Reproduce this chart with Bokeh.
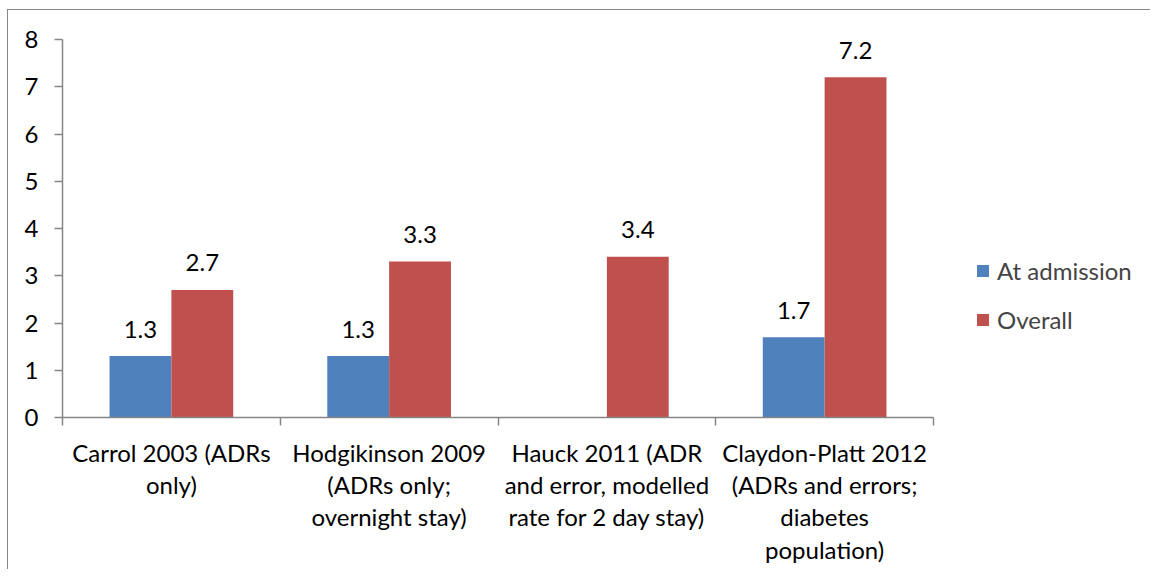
from bokeh.plotting import figure
from bokeh.models import Range1d, FixedTicker, Legend, LegendItem, ColumnDataSource
from bokeh.core.properties import value
from bokeh.embed import file_html
from bokeh.resources import INLINE
import numpy as np

categories = [
    "Carrol 2003 (ADRs\nonly)",
    "Hodgikinson 2009\n(ADRs only;\novernight stay)",
    "Hauck 2011 (ADR\nand error, modelled\nrate for 2 day stay)",
    "Claydon-Platt 2012\n(ADRs and errors;\ndiabetes\npopulation)",
]
at_admission = [1.3, 1.3, np.nan, 1.7]
overall = [2.7, 3.3, 3.4, 7.2]
series_names = ["At admission", "Overall"]
y_ticks = [0, 1, 2, 3, 4, 5, 6, 7, 8]

BLUE = "#4F81BD"
RED = "#C0504D"
GRAY = "#868686"
FONT = "Lato"
FS = "24px"

# layout (pixels)
W, H = 1143, 560
ML, MR, MT, MB = 54, 0, 29, 153
AXIS_PX = 871  # pixel length of the category axis
frame_w = W - ML - MR
n = len(categories)
x_end = n * frame_w / AXIS_PX

idx = np.arange(n)
bw = 0.284
centers = idx + 0.5

p = figure(width=W, height=H, output_backend="svg", toolbar_location=None,
           x_range=Range1d(0, x_end), y_range=Range1d(0, 8))
p.min_border_left = ML
p.min_border_right = MR
p.min_border_top = MT
p.min_border_bottom = MB
p.outline_line_color = None
p.grid.visible = False
p.background_fill_color = "white"
p.border_fill_color = "white"
p.styles = {"border-left": "1px solid #868686", "border-top": "1px solid #868686",
            "margin-left": "7px", "margin-top": "9px"}

src_a = ColumnDataSource(dict(x=centers - bw / 2, top=at_admission,
                              lab=[("" if np.isnan(v) else f"{v:.1f}") for v in at_admission]))
src_o = ColumnDataSource(dict(x=centers + bw / 2, top=overall,
                              lab=[f"{v:.1f}" for v in overall]))

ra = p.vbar(x="x", top="top", bottom=0, width=bw, source=src_a, fill_color=BLUE, line_color=None)
ro = p.vbar(x="x", top="top", bottom=0, width=bw, source=src_o, fill_color=RED, line_color=None)

for s in (src_a, src_o):
    p.text(x="x", y="top", text="lab", source=s, text_align="center", text_baseline="middle",
           y_offset=-27, text_font=value(FONT), text_font_size=FS, text_color="black")

# axes
xa = p.xaxis[0]
xa.bounds = (0, n)
xa.ticker = FixedTicker(ticks=list(centers), minor_ticks=list(range(n + 1)))
xa.major_label_overrides = {float(c): lab for c, lab in zip(centers, categories)}
xa.major_tick_line_color = None
xa.minor_tick_line_color = GRAY
xa.minor_tick_out = 8
xa.minor_tick_in = 0
xa.minor_tick_line_width = 1.5
xa.axis_line_color = GRAY
xa.axis_line_width = 1.5
xa.major_label_text_font = FONT
xa.major_label_text_font_size = FS
xa.major_label_text_color = "black"
xa.major_label_text_line_height = 1.12
xa.major_label_standoff = 12

ya = p.yaxis[0]
ya.ticker = FixedTicker(ticks=y_ticks)
ya.minor_tick_line_color = None
ya.major_tick_line_color = GRAY
ya.major_tick_out = 8
ya.major_tick_in = 0
ya.major_tick_line_width = 1.5
ya.axis_line_color = GRAY
ya.axis_line_width = 1.5
ya.major_label_text_font = FONT
ya.major_label_text_font_size = FS
ya.major_label_text_color = "black"
ya.major_label_standoff = 16

legend = Legend(items=[LegendItem(label=series_names[0], renderers=[ra]),
                       LegendItem(label=series_names[1], renderers=[ro])],
                location=(913, 83), padding=0, margin=0, spacing=20,
                glyph_width=15, glyph_height=15, label_height=22, label_standoff=7,
                label_text_font=FONT, label_text_font_size=FS, border_line_color=None,
                background_fill_alpha=0)
p.add_layout(legend)

open("out.html", "w").write(file_html(p, INLINE))
